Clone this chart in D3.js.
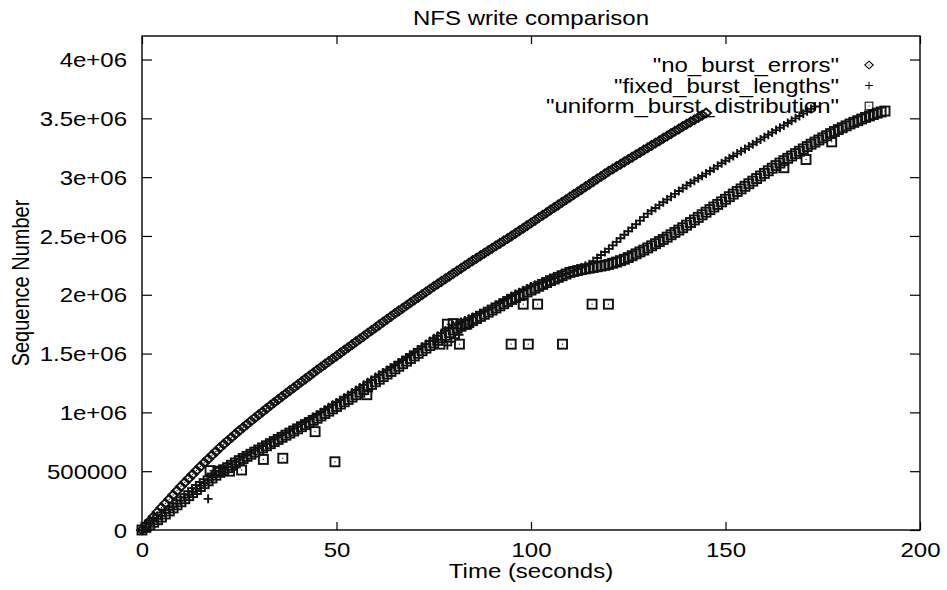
<!DOCTYPE html>
<html>
<head>
<meta charset="utf-8">
<script src="https://cdn.jsdelivr.net/npm/d3@7"></script>
<style>
  body { margin: 0; background: #fff; }
  svg { display: block; }
  text { font-family: "Liberation Sans", Arial, Helvetica, sans-serif; fill: #000; }
</style>
</head>
<body>
<svg id="chart" width="947" height="590"></svg>
<script>

// axis ticks
var xTicks = [0, 50, 100, 150, 200];
var yTicks = [0, 500000, 1000000, 1500000, 2000000, 2500000, 3000000, 3500000, 4000000];
var yTickLabels = ["0", "500000", "1e+06", "1.5e+06", "2e+06", "2.5e+06", "3e+06", "3.5e+06", "4e+06"];

var seriesNames = ['"no_burst_errors"', '"fixed_burst_lengths"', '"uniform_burst_distribution"'];

// [time (s), sequence number in thousands]
var noBurstErrors = [
  [0,0],[1,38],[2,76],[3,114],[4,152],[5,190],[6,226],[7,262],[8,298],[9,334],
  [10,370],[11,404],[12,438],[13,472],[14,506],[15,540],[16,572],[17,604],[18,636],[19,668],
  [20,700],[21,729],[22,758],[23,787],[24,816],[25,845],[26,872],[27,899],[28,926],[29,953],
  [30,980],[31,1006],[32,1032],[33,1058],[34,1084],[35,1110],[36,1135],[37,1160],[38,1185],[39,1210],
  [40,1235],[41,1260],[42,1285],[43,1310],[44,1335],[45,1360],[46,1384],[47,1408],[48,1432],[49,1456],
  [50,1480],[51,1504],[52,1528],[53,1552],[54,1576],[55,1600],[56,1624],[57,1648],[58,1672],[59,1696],
  [60,1720],[61,1744],[62,1768],[63,1792],[64,1816],[65,1840],[66,1863],[67,1886],[68,1909],[69,1932],
  [70,1955],[71,1978],[72,2001],[73,2024],[74,2047],[75,2070],[76,2092],[77,2114],[78,2136],[79,2158],
  [80,2180],[81,2202],[82,2224],[83,2246],[84,2268],[85,2290],[86,2311],[87,2332],[88,2353],[89,2374],
  [90,2395],[91,2416],[92,2437],[93,2458],[94,2479],[95,2500],[96,2522],[97,2544],[98,2566],[99,2588],
  [100,2610],[101,2632],[102,2654],[103,2676],[104,2698],[105,2720],[106,2742],[107,2764],[108,2786],[109,2808],
  [110,2830],[111,2852],[112,2874],[113,2896],[114,2918],[115,2940],[116,2962],[117,2984],[118,3006],[119,3028],
  [120,3050],[121,3070],[122,3090],[123,3110],[124,3130],[125,3150],[126,3170],[127,3190],[128,3210],[129,3230],
  [130,3250],[131,3270],[132,3290],[133,3310],[134,3330],[135,3350],[136,3370],[137,3390],[138,3410],[139,3430],
  [140,3450],[141,3469],[142,3488],[143,3507],[144,3526],[145,3545]
];

var fixedBurstLengths = [
  [0,0],[1,24],[2,48],[3,72],[4,96],[5,120],[6,146],[7,172],[8,198],[9,224],
  [10,250],[11,275],[12,300],[13,325],[14,350],[15,375],[16,399],[17,423],[18,447],[19,471],
  [20,495],[21,516],[22,537],[23,558],[24,579],[25,600],[26,619],[27,638],[28,657],[29,676],
  [30,695],[31,714],[32,733],[33,752],[34,771],[35,790],[36,808],[37,826],[38,844],[39,862],
  [40,880],[41,900],[42,920],[43,940],[44,960],[45,980],[46,1001],[47,1022],[48,1043],[49,1064],
  [50,1085],[51,1106],[52,1127],[53,1148],[54,1169],[55,1190],[56,1212],[57,1234],[58,1256],[59,1278],
  [60,1300],[61,1320],[62,1340],[63,1360],[64,1380],[65,1400],[66,1422],[67,1444],[68,1466],[69,1488],
  [70,1510],[71,1534],[72,1558],[73,1582],[74,1606],[75,1630],[76,1652],[77,1674],[78,1696],[79,1718],
  [80,1740],[81,1754],[82,1768],[83,1782],[84,1796],[85,1810],[86,1826],[87,1842],[88,1858],[89,1874],
  [90,1890],[91,1910],[92,1930],[93,1950],[94,1970],[95,1990],[96,2006],[97,2022],[98,2038],[99,2054],
  [100,2070],[101,2082],[102,2094],[103,2106],[104,2118],[105,2130],[106,2142],[107,2154],[108,2166],[109,2178],
  [110,2190],[111,2204],[112,2218],[113,2232],[114,2246],[115,2260],[116,2286],[117,2312],[118,2338],[119,2364],
  [120,2390],[121,2420],[122,2450],[123,2480],[124,2510],[125,2540],[126,2570],[127,2600],[128,2630],[129,2660],
  [130,2690],[131,2714],[132,2738],[133,2762],[134,2786],[135,2810],[136,2834],[137,2858],[138,2882],[139,2906],
  [140,2930],[141,2950],[142,2970],[143,2990],[144,3010],[145,3030],[146,3052],[147,3074],[148,3096],[149,3118],
  [150,3140],[151,3160],[152,3180],[153,3200],[154,3220],[155,3240],[156,3260],[157,3280],[158,3300],[159,3320],
  [160,3340],[161,3360],[162,3380],[163,3400],[164,3420],[165,3440],[166,3460],[167,3480],[168,3500],[169,3520],
  [170,3540],[171,3560],[172,3580],[173,3600],
  // stragglers
  [17,265],[78.5,1570],[79.5,1600],[80.5,1630],[81.5,1660]
];

var uniformBurstDist = [
  [0,0],[1,22],[2,44],[3,66],[4,88],[5,110],[6,136],[7,162],[8,188],[9,214],
  [10,240],[11,266],[12,292],[13,318],[14,344],[15,370],[16,394],[17,418],[18,442],[19,466],
  [20,490],[21,510],[22,530],[23,550],[24,570],[25,590],[26,608],[27,626],[28,644],[29,662],
  [30,680],[31,698],[32,716],[33,734],[34,752],[35,770],[36,788],[37,806],[38,824],[39,842],
  [40,860],[41,878],[42,896],[43,914],[44,932],[45,950],[46,970],[47,990],[48,1010],[49,1030],
  [50,1050],[51,1070],[52,1090],[53,1110],[54,1130],[55,1150],[56,1172],[57,1194],[58,1216],[59,1238],
  [60,1260],[61,1282],[62,1304],[63,1326],[64,1348],[65,1370],[66,1392],[67,1414],[68,1436],[69,1458],
  [70,1480],[71,1502],[72,1524],[73,1546],[74,1568],[75,1590],[76,1612],[77,1634],[78,1656],[79,1678],
  [80,1700],[81,1716],[82,1732],[83,1748],[84,1764],[85,1780],[86,1798],[87,1816],[88,1834],[89,1852],
  [90,1870],[91,1888],[92,1906],[93,1924],[94,1942],[95,1960],[96,1976],[97,1992],[98,2008],[99,2024],
  [100,2040],[101,2056],[102,2072],[103,2088],[104,2104],[105,2120],[106,2134],[107,2148],[108,2162],[109,2176],
  [110,2190],[111,2198],[112,2206],[113,2214],[114,2220],[115,2226],[116,2232],[117,2238],[118,2244],[119,2250],
  [120,2258],[121,2268],[122,2278],[123,2290],[124,2302],[125,2316],[126,2332],[127,2348],[128,2364],[129,2380],
  [130,2398],[131,2416],[132,2434],[133,2452],[134,2470],[135,2490],[136,2510],[137,2530],[138,2550],[139,2570],
  [140,2592],[141,2614],[142,2636],[143,2658],[144,2680],[145,2702],[146,2724],[147,2746],[148,2768],[149,2790],
  [150,2812],[151,2834],[152,2856],[153,2878],[154,2900],[155,2922],[156,2944],[157,2966],[158,2988],[159,3010],
  [160,3032],[161,3054],[162,3076],[163,3098],[164,3120],[165,3140],[166,3160],[167,3180],[168,3200],[169,3220],
  [170,3240],[171,3260],[172,3280],[173,3298],[174,3316],[175,3334],[176,3352],[177,3370],[178,3388],[179,3404],
  [180,3420],[181,3436],[182,3452],[183,3466],[184,3480],[185,3494],[186,3508],[187,3520],[188,3532],[189,3544],
  [190,3554],[191,3562],
  // stragglers below the band
  [17.5,505],[19.5,500],[21,510],[22.5,500],[25.6,510],[31.2,600],[36.2,610],[44.5,836],[49.6,580],[57.8,1150],
  [76.6,1580],[81.6,1580],[78.5,1750],[80,1755],[82,1750],[83.5,1750],
  [94.9,1580],[99.3,1580],[108.1,1580],[98,1920],[101.7,1920],[115.7,1920],[119.9,1920],
  [165,3080],[170.7,3150],[177.3,3300]
];

var svg = d3.select("#chart");

var margin = {top: 36, right: 27, bottom: 60, left: 142},
    width = 947 - margin.left - margin.right,
    height = 590 - margin.top - margin.bottom;

var x = d3.scaleLinear().domain([0, 200]).range([0, width]);
var y = d3.scaleLinear().domain([0, 4200000]).range([height, 0]);

var sx = 1.2; // gnuplot text came out stretched sideways
var fontSize = 20;

var g = svg.append("g")
    .attr("transform", "translate(" + margin.left + "," + margin.top + ")");

// stretched text helper
function label(parent, px, py, str, anchor) {
  return parent.append("text")
      .attr("transform", "translate(" + px + "," + py + ") scale(" + sx + ",1)")
      .attr("text-anchor", anchor)
      .attr("font-size", fontSize + "px")
      .text(str);
}

// axes, ticks pointing inward on all four sides
var yAxis = d3.axisLeft(y).tickValues(yTicks).tickSizeInner(-10).tickSizeOuter(0)
    .tickPadding(15 / sx).tickFormat(function(d, i) { return yTickLabels[i]; });
var yAxisR = d3.axisRight(y).tickValues(yTicks).tickSizeInner(-10).tickSizeOuter(0).tickFormat("");
var xAxis = d3.axisBottom(x).tickValues(xTicks).tickSizeInner(-8).tickSizeOuter(0)
    .tickPadding(13).tickFormat(d3.format("d"));
var xAxisT = d3.axisTop(x).tickValues(xTicks).tickSizeInner(-8).tickSizeOuter(0).tickFormat("");

g.append("g").attr("class", "y axis").call(yAxis);
g.append("g").attr("class", "y axis").attr("transform", "translate(" + width + ",0)").call(yAxisR);
g.append("g").attr("class", "x axis").attr("transform", "translate(0," + height + ")").call(xAxis);
g.append("g").attr("class", "x axis").call(xAxisT);

g.selectAll(".axis .domain").remove();
g.selectAll(".axis line").attr("stroke", "#000").attr("stroke-width", 1.2);
g.selectAll(".axis text")
    .attr("font-size", fontSize + "px")
    .attr("font-family", '"Liberation Sans", Arial, sans-serif')
    .attr("fill", "#000");
g.selectAll(".y.axis text").attr("transform", "scale(" + sx + ",1)").attr("dy", "0.36em");
g.selectAll(".x.axis text").attr("transform", "scale(" + sx + ",1)").attr("dy", "0.68em");

// frame
g.append("rect")
    .attr("width", width).attr("height", height)
    .attr("fill", "none").attr("stroke", "#000").attr("stroke-width", 1.4);

// titles
label(svg, margin.left + width / 2, 25, "NFS write comparison", "middle");
label(svg, margin.left + width / 2, 578, "Time (seconds)", "middle");
svg.append("text")
    .attr("transform", "translate(29," + (margin.top + height / 2) + ") rotate(-90) scale(1," + sx + ")")
    .attr("text-anchor", "middle")
    .attr("font-size", fontSize + "px")
    .text("Sequence Number");

// point markers
var markers = {
  diamond: function(sel) {
    sel.append("path").attr("d", "M0,-4.5L5,0L0,4.5L-5,0Z");
    sel.append("rect").attr("x", -0.6).attr("y", -0.6).attr("width", 1.2).attr("height", 1.2)
        .attr("fill", "#222").attr("stroke", "none");
  },
  plus: function(sel) {
    sel.append("path").attr("d", "M-4.5,0H4.5M0,-4.5V4.5");
  },
  square: function(sel) {
    sel.append("rect").attr("x", -4.5).attr("y", -4.5).attr("width", 9).attr("height", 9);
    sel.append("rect").attr("x", -0.6).attr("y", -0.6).attr("width", 1.2).attr("height", 1.2)
        .attr("fill", "#222").attr("stroke", "none");
  }
};

var series = [
  {data: noBurstErrors, marker: "diamond"},
  {data: fixedBurstLengths, marker: "plus"},
  {data: uniformBurstDist, marker: "square"}
];

var plot = g.append("g");

series.forEach(function(s) {
  plot.append("g")
      .attr("fill", "none").attr("stroke", "#111").attr("stroke-width", 1.9)
    .selectAll("g")
    .data(s.data)
    .enter().append("g")
      .attr("transform", function(d) { return "translate(" + x(d[0]) + "," + y(d[1] * 1000) + ")"; })
      .call(markers[s.marker]);
});

// legend, top right
var legend = svg.append("g");
seriesNames.forEach(function(name, i) {
  var ly = 65 + i * 20.5;
  label(legend, 839, ly + 7, name, "end");
  legend.append("g")
      .attr("transform", "translate(869," + ly + ") scale(0.85)")
      .attr("fill", "none").attr("stroke", "#000").attr("stroke-width", 1.2)
      .call(markers[series[i].marker]);
});

</script>
</body>
</html>
